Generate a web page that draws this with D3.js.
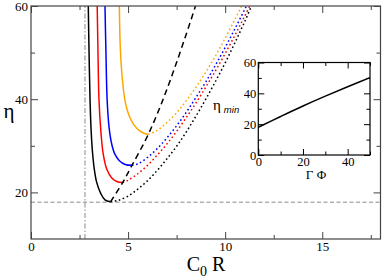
<!DOCTYPE html>
<html><head><meta charset="utf-8">
<script src="https://cdn.jsdelivr.net/npm/d3@7"></script>
<style>
body{margin:0;background:#fff}
svg{display:block}
svg text{font-family:"Liberation Serif","Times New Roman",serif !important;}
svg text tspan.sans{font-family:"Liberation Sans",Arial,sans-serif !important;}
</style>
</head><body>
<script>
// ---- data ----
const xMajor = [0, 5, 10, 15];
const xMinor = [2.5, 7.5, 12.5, 17.5];
const yMajor = [20, 40, 60];
const yMinor = [30, 50];
const insetXMajor = [0, 20, 40];
const insetXMinor = [10, 30, 50];
const insetYMajor = [0, 20, 40, 60];
const insetYMinor = [10, 30, 50];

const blackSolid = [[2.95,60],[2.99,50],[3.04,40],[3.10,33],[3.17,28.5],[3.26,25],[3.38,22.2],[3.59,19.8],[3.81,18.4],[4.10,18.0]];
const redSolid = [[3.41,60],[3.45,50],[3.50,40],[3.60,33],[3.72,28.2],[3.90,25.0],[4.16,23.1],[4.45,22.3],[4.72,22.1]];
const blueSolid = [[3.81,60],[3.86,50],[3.92,40],[4.02,34],[4.15,30.5],[4.32,28.2],[4.55,26.8],[4.85,26.0],[5.2,25.8]];
const orangeSolid = [[4.55,60],[4.60,51],[4.70,44.5],[4.85,39.5],[5.05,36.5],[5.30,34.5],[5.60,33.2],[5.85,32.65],[6.04,32.45]];

const blackDotted = [[4.10,18.0],[4.5,18.3],[5,19.2],[5.5,20.7],[6,22.5],[6.5,24.7],[7,27.2],[7.5,29.9],[8,33.0],[8.5,36.4],[9,40.0],[9.5,43.8],[10,47.8],[10.5,52.1],[11,56.6],[11.5,61.4]];
const redDotted = [[4.72,22.1],[5,22.6],[5.5,24.0],[6,25.8],[6.5,28.0],[7,30.4],[7.5,33.1],[8,36.1],[8.5,39.2],[9,42.6],[9.5,46.1],[10,49.8],[10.5,53.7],[11,57.8],[11.5,61.9]];
const blueDotted = [[5.2,25.8],[5.5,26.1],[6,27.5],[6.5,29.4],[7,31.7],[7.5,34.3],[8,37.2],[8.5,40.4],[9,43.7],[9.5,47.3],[10,51.1],[10.5,55.1],[11,59.2],[11.5,63.5]];
const orangeDotted = [[6.04,32.45],[6.5,33.3],[7,35.0],[7.5,37.1],[8,39.7],[8.5,42.6],[9,45.8],[9.5,49.3],[10,53.1],[10.5,57.1],[11,61.3]];

const minLocus = [[4.10,18.0],[4.72,22.1],[5.2,25.8],[6.04,32.45],[6.98,41.9],[8.47,60],[8.6,62]];
const etaThreshold = 17.9;
const c0rThreshold = 2.78;

const insetCurve = [[0,18],[10,25],[20,31.8],[30,38.2],[40,44.3],[50,50.2]];

// ---- drawing ----
const W = 382, H = 278;
const svg = d3.select("body").append("svg").attr("width", W).attr("height", H);

const x = d3.scaleLinear().domain([0, 18]).range([31, 380.5]);
const y = d3.scaleLinear().domain([10, 60]).range([239, 6]);

svg.append("clipPath").attr("id","clip").append("rect")
  .attr("x", x(0)).attr("y", y(60)).attr("width", x(18)-x(0)).attr("height", y(10)-y(60));

const plot = svg.append("g").attr("clip-path","url(#clip)");
const line = d3.line().x(d=>x(d[0])).y(d=>y(d[1])).curve(d3.curveCatmullRom.alpha(0.5));

// reference lines
plot.append("line").attr("x1", x(0)).attr("x2", x(18)).attr("y1", y(etaThreshold)).attr("y2", y(etaThreshold))
  .attr("stroke","#8a8a8a").attr("stroke-width",1).attr("stroke-dasharray","4,2.5");
plot.append("line").attr("x1", x(c0rThreshold)).attr("x2", x(c0rThreshold)).attr("y1", y(10)).attr("y2", y(60))
  .attr("stroke","#8a8a8a").attr("stroke-width",1).attr("stroke-dasharray","5,2,1.5,2");

const series = [
  {s: blackSolid, d: blackDotted, c: "#000000"},
  {s: redSolid, d: redDotted, c: "#ff0000"},
  {s: blueSolid, d: blueDotted, c: "#0000ff"},
  {s: orangeSolid, d: orangeDotted, c: "#ffa500"}
];
series.forEach(o => {
  plot.append("path").attr("d", line(o.d)).attr("fill","none").attr("stroke", o.c)
    .attr("stroke-width",1.5).attr("stroke-dasharray","1.6,2.6");
  plot.append("path").attr("d", line(o.s)).attr("fill","none").attr("stroke", o.c).attr("stroke-width",1.5);
});
plot.append("path").attr("d", line(minLocus)).attr("fill","none").attr("stroke","#000")
  .attr("stroke-width",1.5).attr("stroke-dasharray","6,4");

// axes
function styleAxis(g){
  g.attr("font-family", null).attr("font-size", 13);
  g.select(".domain").remove();
  g.selectAll(".tick line").attr("stroke","#444");
  g.selectAll("text").attr("fill","#000");
}
svg.append("g").attr("transform",`translate(0,${y(10)})`)
  .call(d3.axisBottom(x).tickValues(xMajor).tickSize(-7).tickPadding(3).tickFormat(d3.format("d"))).call(styleAxis);
svg.append("g").attr("transform",`translate(0,${y(10)})`)
  .call(d3.axisBottom(x).tickValues(xMinor).tickSize(-4).tickFormat("")).call(styleAxis);
svg.append("g").attr("transform",`translate(0,${y(60)})`)
  .call(d3.axisTop(x).tickValues(xMajor).tickSize(-7).tickFormat("")).call(styleAxis);
svg.append("g").attr("transform",`translate(0,${y(60)})`)
  .call(d3.axisTop(x).tickValues(xMinor).tickSize(-4).tickFormat("")).call(styleAxis);
svg.append("g").attr("transform",`translate(${x(0)},0)`)
  .call(d3.axisLeft(y).tickValues(yMajor).tickSize(-7).tickPadding(3).tickFormat(d3.format("d"))).call(styleAxis);
svg.append("g").attr("transform",`translate(${x(0)},0)`)
  .call(d3.axisLeft(y).tickValues(yMinor).tickSize(-4).tickFormat("")).call(styleAxis);
svg.append("g").attr("transform",`translate(${x(18)},0)`)
  .call(d3.axisRight(y).tickValues(yMajor).tickSize(-7).tickFormat("")).call(styleAxis);
svg.append("g").attr("transform",`translate(${x(18)},0)`)
  .call(d3.axisRight(y).tickValues(yMinor).tickSize(-4).tickFormat("")).call(styleAxis);

svg.append("rect").attr("x", x(0)).attr("y", y(60)).attr("width", x(18)-x(0)).attr("height", y(10)-y(60))
  .attr("fill","none").attr("stroke","#444").attr("stroke-width",1.2);

// axis labels
svg.append("text").attr("x", 9).attr("y", 118).attr("text-anchor","middle")
  .attr("font-size", 21).text("η");
const xl = svg.append("text").attr("x", 206).attr("y", 271).attr("text-anchor","middle")
  .attr("font-size", 20);
xl.append("tspan").text("C");
xl.append("tspan").attr("font-size", 14).attr("dy", 5).text("0");
xl.append("tspan").attr("dy", -5).text(" R");

// ---- inset ----
const ix = d3.scaleLinear().domain([0, 50]).range([258.3, 370]);
const iy = d3.scaleLinear().domain([0, 60]).range([155, 62.5]);
const ig = svg.append("g");
ig.append("rect").attr("x", ix(0)).attr("y", iy(60)).attr("width", ix(50)-ix(0)).attr("height", iy(0)-iy(60))
  .attr("fill","#fff").attr("stroke","none");
function styleInset(g){
  g.attr("font-family", null).attr("font-size", 12.5);
  g.select(".domain").remove();
  g.selectAll(".tick line").attr("stroke","#000");
  g.selectAll("text").attr("fill","#000");
}
ig.append("g").attr("transform",`translate(0,${iy(0)})`)
  .call(d3.axisBottom(ix).tickValues(insetXMajor).tickSize(-6).tickPadding(2).tickFormat(d3.format("d"))).call(styleInset);
ig.append("g").attr("transform",`translate(0,${iy(0)})`)
  .call(d3.axisBottom(ix).tickValues(insetXMinor).tickSize(-3.5).tickFormat("")).call(styleInset);
ig.append("g").attr("transform",`translate(0,${iy(60)})`)
  .call(d3.axisTop(ix).tickValues(insetXMajor).tickSize(-6).tickFormat("")).call(styleInset);
ig.append("g").attr("transform",`translate(0,${iy(60)})`)
  .call(d3.axisTop(ix).tickValues(insetXMinor).tickSize(-3.5).tickFormat("")).call(styleInset);
ig.append("g").attr("transform",`translate(${ix(0)},0)`)
  .call(d3.axisLeft(iy).tickValues(insetYMajor).tickSize(-6).tickPadding(2).tickFormat(d3.format("d"))).call(styleInset);
ig.append("g").attr("transform",`translate(${ix(0)},0)`)
  .call(d3.axisLeft(iy).tickValues(insetYMinor).tickSize(-3.5).tickFormat("")).call(styleInset);
ig.append("g").attr("transform",`translate(${ix(50)},0)`)
  .call(d3.axisRight(iy).tickValues(insetYMajor).tickSize(-6).tickFormat("")).call(styleInset);
ig.append("g").attr("transform",`translate(${ix(50)},0)`)
  .call(d3.axisRight(iy).tickValues(insetYMinor).tickSize(-3.5).tickFormat("")).call(styleInset);
const iline = d3.line().x(d=>ix(d[0])).y(d=>iy(d[1])).curve(d3.curveCatmullRom.alpha(0.5));
ig.append("path").attr("d", iline(insetCurve)).attr("fill","none").attr("stroke","#000").attr("stroke-width",1.5);
ig.append("rect").attr("x", ix(0)).attr("y", iy(60)).attr("width", ix(50)-ix(0)).attr("height", iy(0)-iy(60))
  .attr("fill","none").attr("stroke","#000").attr("stroke-width",1.2);

const il = ig.append("text").attr("x", 213).attr("y", 110).attr("font-size", 15);
il.append("tspan").text("η");
il.append("tspan").attr("class","sans").attr("font-style","italic")
  .attr("font-size", 9.5).attr("dx", 3).attr("dy", 3).text("min");
ig.append("text").attr("x", 316).attr("y", 179).attr("text-anchor","middle")
  .attr("font-size", 13).text("Γ Φ");
</script>
</body></html>
